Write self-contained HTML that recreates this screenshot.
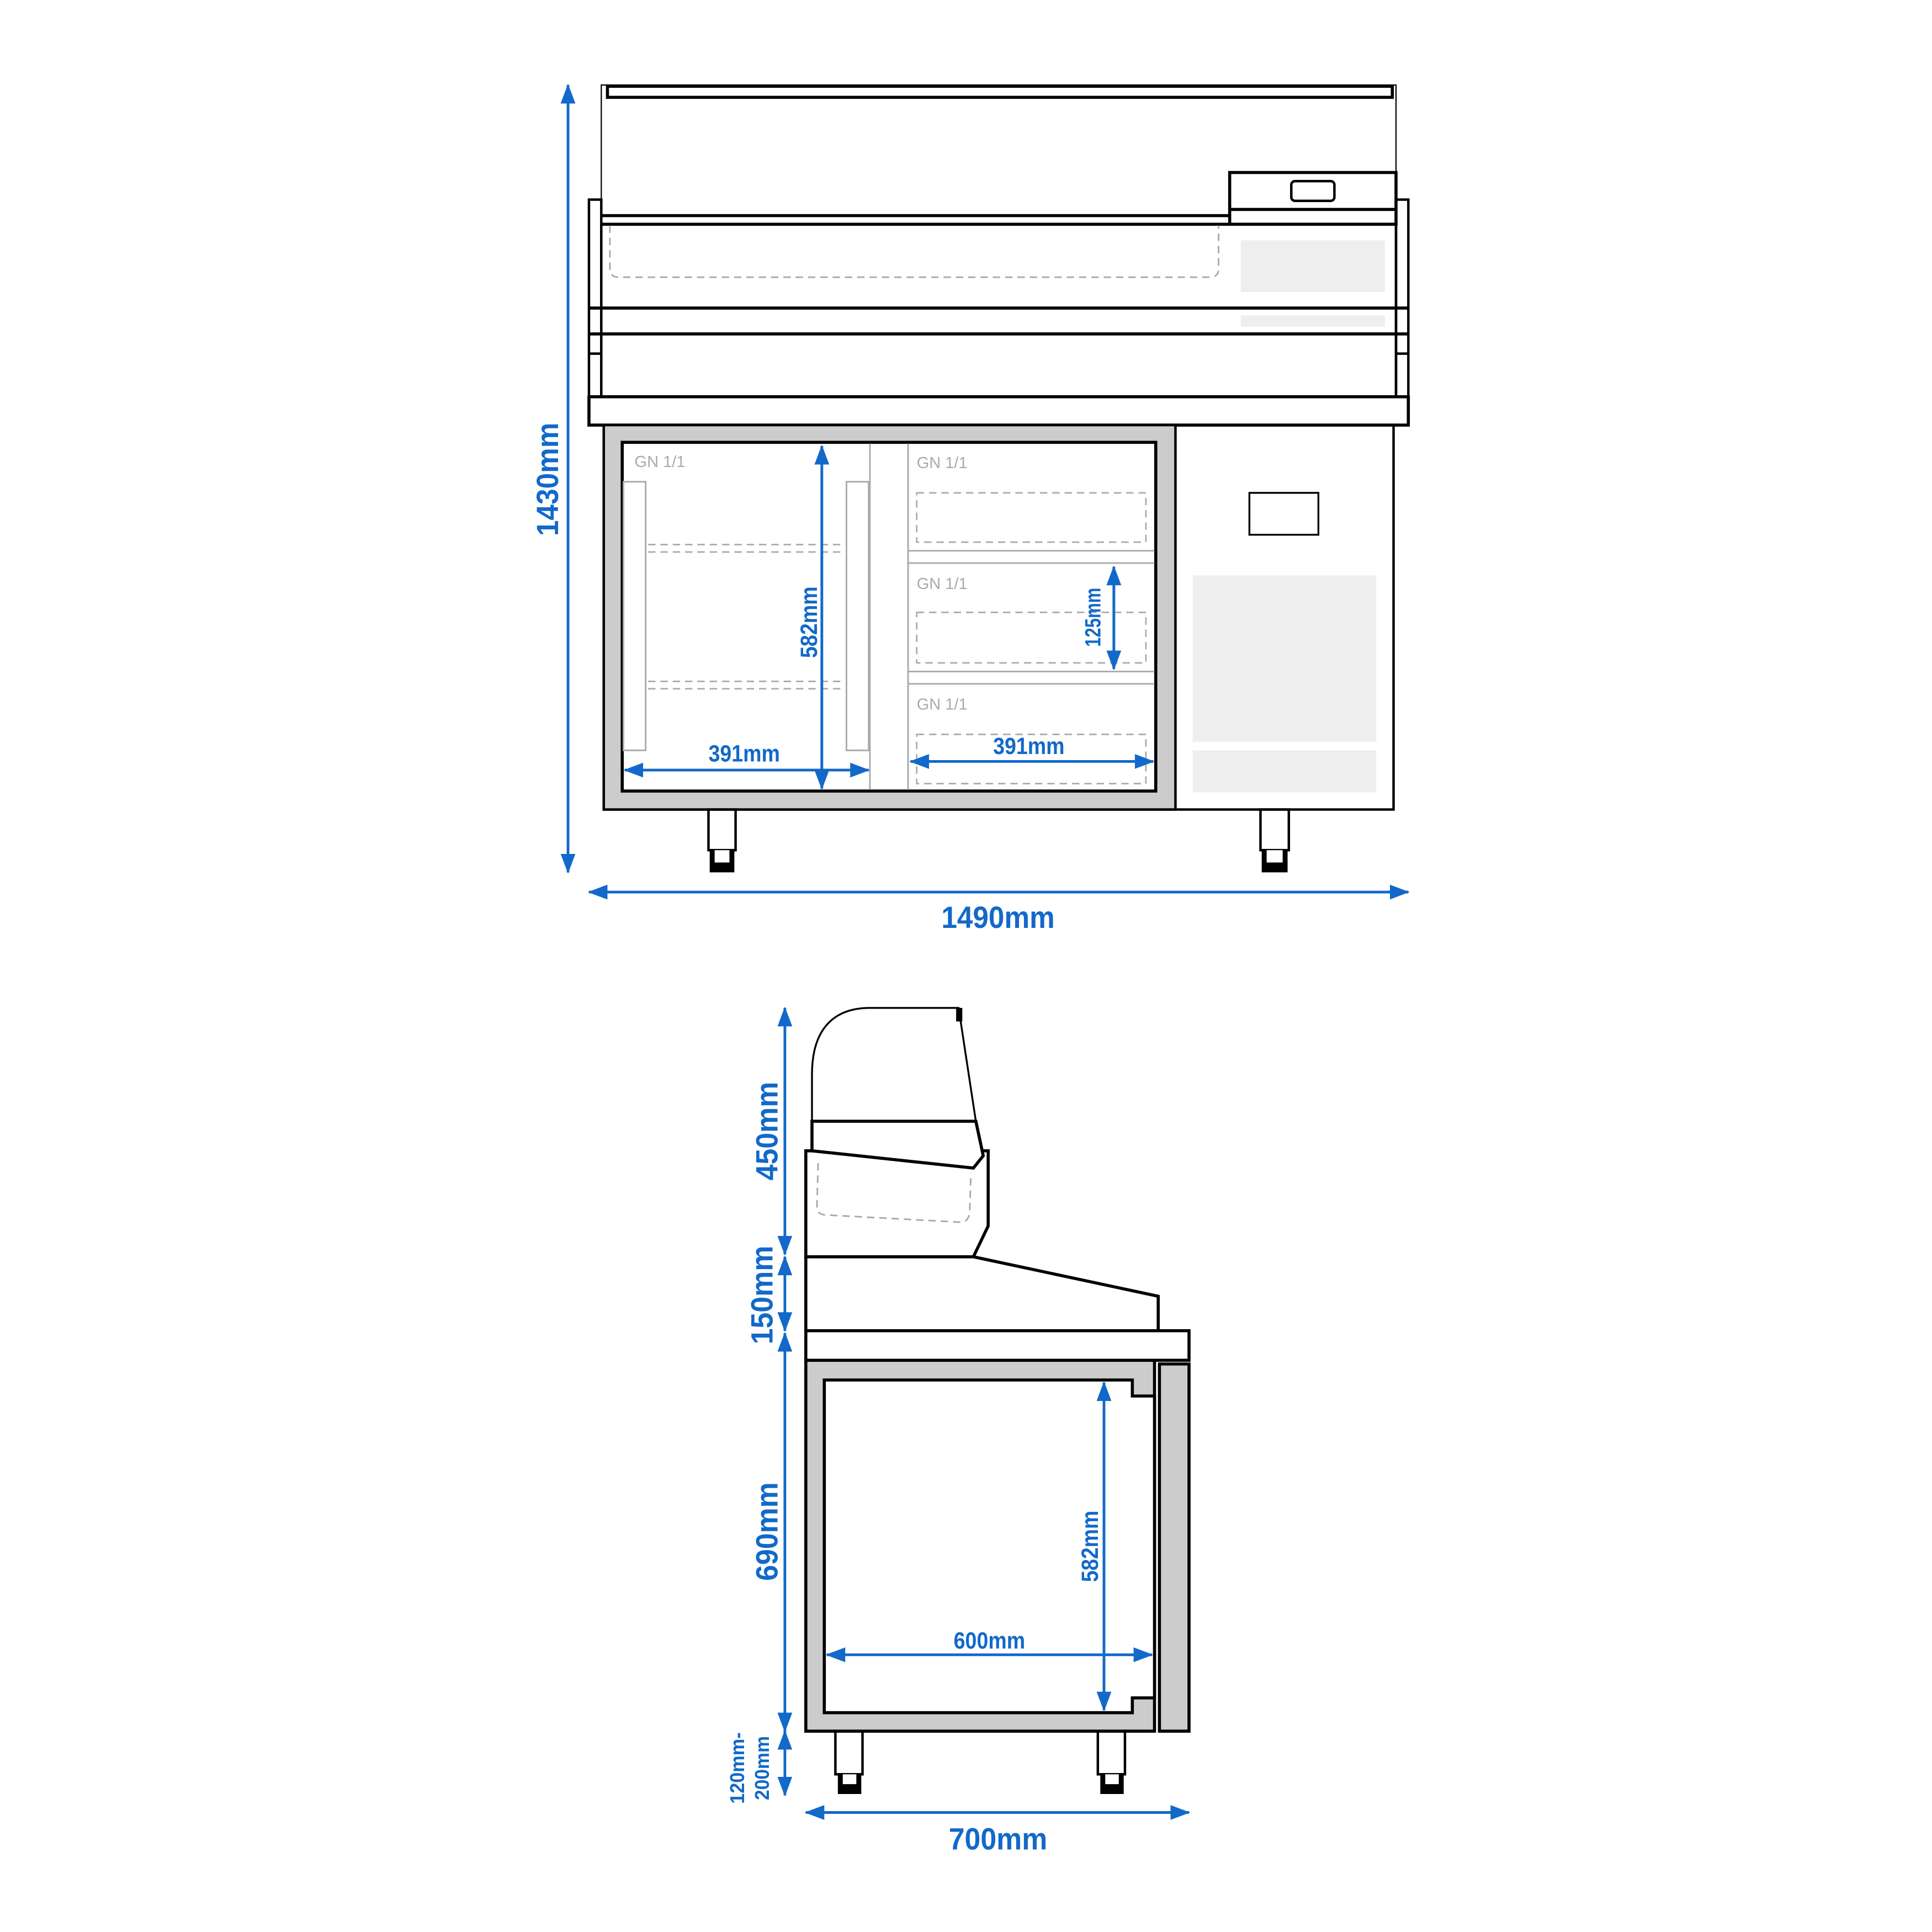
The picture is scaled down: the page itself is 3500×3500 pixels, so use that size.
<!DOCTYPE html>
<html><head><meta charset="utf-8"><style>
html,body{margin:0;padding:0;background:#fff}
svg{display:block}
text{font-family:"Liberation Sans Narrow","Liberation Sans",sans-serif;font-weight:bold}
.b{fill:#1269c9}
.g{fill:#aaa;font-weight:normal;font-family:"Liberation Sans",sans-serif;font-size:13px}
</style></head><body>
<svg width="3500" height="3500" viewBox="0 0 1568 1568" xmlns="http://www.w3.org/2000/svg">
<defs>
<marker id="a" viewBox="0 0 16 12" refX="15" refY="6" markerWidth="16" markerHeight="12" markerUnits="userSpaceOnUse" orient="auto-start-reverse">
<path d="M0,0 L16,6 L0,12 Z" fill="#1269c9"/></marker>
</defs>
<g fill="none" stroke="#000" stroke-width="2">
<rect x="488" y="69" width="645" height="113" stroke-width="1"/>
<rect x="493" y="70" width="637" height="9" stroke-width="2.5"/>
<rect x="998" y="140" width="135" height="42" fill="#fff" stroke-width="2.5"/>
<line x1="998" y1="170" x2="1133" y2="170" stroke-width="2.5"/>
<rect x="1048" y="147" width="35" height="16" rx="3"/>
<line x1="488" y1="175" x2="998" y2="175" stroke-width="2.5"/>
<line x1="488" y1="182" x2="1133" y2="182" stroke-width="2.5"/>
<rect x="478" y="162" width="10" height="160"/>
<rect x="1133" y="162" width="10" height="160"/>
<line x1="488" y1="182" x2="488" y2="322"/>
<line x1="1133" y1="182" x2="1133" y2="322"/>
<line x1="478" y1="250" x2="1143" y2="250" stroke-width="2.5"/>
<line x1="478" y1="271" x2="1143" y2="271" stroke-width="2.5"/>
<line x1="478" y1="287" x2="488" y2="287"/>
<line x1="1133" y1="287" x2="1143" y2="287"/>
<path d="M495,183 V218 Q495,225 502,225 H982 Q989,225 989,218 V183" stroke="#aaa" stroke-width="1.3" stroke-dasharray="6,4"/>
<rect x="1007" y="195" width="117" height="42" fill="#eee" stroke="none"/>
<rect x="1007" y="256" width="117" height="9" fill="#eee" stroke="none"/>
<rect x="478" y="322" width="665" height="23" stroke-width="2.5"/>
<rect x="490" y="345" width="641" height="312"/>
<rect x="490" y="345" width="464" height="312" fill="#ccc"/>
<rect x="505" y="359" width="433" height="283" fill="#fff" stroke-width="2.5"/>
<line x1="706" y1="360" x2="706" y2="641" stroke="#aaa" stroke-width="1.3"/>
<line x1="737" y1="360" x2="737" y2="641" stroke="#aaa" stroke-width="1.3"/>
<line x1="737" y1="447" x2="937" y2="447" stroke="#aaa" stroke-width="1.3"/>
<line x1="737" y1="457" x2="937" y2="457" stroke="#aaa" stroke-width="1.3"/>
<line x1="737" y1="545" x2="937" y2="545" stroke="#aaa" stroke-width="1.3"/>
<line x1="737" y1="555" x2="937" y2="555" stroke="#aaa" stroke-width="1.3"/>
<rect x="506" y="391" width="18" height="218" stroke="#aaa" stroke-width="1.3"/>
<rect x="687" y="391" width="18" height="218" stroke="#aaa" stroke-width="1.3"/>
<g stroke="#aaa" stroke-width="1.2" stroke-dasharray="6,4">
<line x1="526" y1="442" x2="686" y2="442"/><line x1="526" y1="448" x2="686" y2="448"/>
<line x1="526" y1="553" x2="686" y2="553"/><line x1="526" y1="559" x2="686" y2="559"/>
<rect x="744" y="400" width="186" height="40"/>
<rect x="744" y="497" width="186" height="41"/>
<rect x="744" y="596" width="186" height="40"/>
</g>
<rect x="1014" y="400" width="56" height="34" stroke-width="1.5"/>
<rect x="968" y="467" width="149" height="135" fill="#eee" stroke="none"/>
<rect x="968" y="609" width="149" height="34" fill="#eee" stroke="none"/>
<rect x="575" y="657" width="22" height="33"/>
<rect x="577" y="690" width="18" height="17" fill="#000"/>
<rect x="580" y="690" width="12" height="10" fill="#fff" stroke="none"/>
<rect x="1023" y="657" width="23" height="33"/>
<rect x="1025" y="690" width="19" height="17" fill="#000"/>
<rect x="1028" y="690" width="13" height="10" fill="#fff" stroke="none"/>

<path d="M659,910 L659,872 C659,836 676,818 706,818 L778,818 L792,910" stroke-width="1.5"/>
<rect x="776" y="818" width="5" height="11" fill="#000" stroke="none"/>
<path d="M659,910 L792,910 L798,938 L790,948 L659,934 Z" stroke-width="2.5"/>
<path d="M659,934 L654,934 L654,1020 L790,1020 L802,995 L802,934 L798,934" stroke-width="2.5"/>
<path d="M664,944 L663,980 Q663,985 669,986 L781,992 Q786,991 787,984 L788,952" stroke="#aaa" stroke-width="1.3" stroke-dasharray="6,4"/>
<path d="M790,1020 L940,1052 L940,1080" stroke-width="2.5"/>
<line x1="654" y1="1020" x2="654" y2="1080" stroke-width="2.5"/>
<rect x="654" y="1080" width="311" height="24" stroke-width="2.5"/>
<rect x="654" y="1104" width="283" height="301" fill="#ccc" stroke-width="2.5"/>
<path d="M669,1120 H919 V1133 H937 V1378 H919 V1390 H669 Z" fill="#fff" stroke-width="2.5"/>
<rect x="941" y="1107" width="24" height="298" fill="#ccc" stroke-width="2.5"/>
<rect x="678" y="1405" width="22" height="35"/>
<rect x="681" y="1440" width="17" height="15" fill="#000"/>
<rect x="684" y="1440" width="11" height="8" fill="#fff" stroke="none"/>
<rect x="891" y="1405" width="22" height="35"/>
<rect x="894" y="1440" width="17" height="15" fill="#000"/>
<rect x="897" y="1440" width="11" height="8" fill="#fff" stroke="none"/>
</g>

<g stroke="#1269c9" stroke-width="2.2" fill="none" marker-start="url(#a)" marker-end="url(#a)">
<line x1="461" y1="69" x2="461" y2="708"/>
<line x1="478" y1="724" x2="1143" y2="724"/>
<line x1="667" y1="362" x2="667" y2="640"/>
<line x1="507" y1="625" x2="705" y2="625"/>
<line x1="739" y1="618" x2="936" y2="618"/>
<line x1="904" y1="460" x2="904" y2="543"/>
<line x1="637" y1="818" x2="637" y2="1018"/>
<line x1="637" y1="1020" x2="637" y2="1080"/>
<line x1="637" y1="1082" x2="637" y2="1405"/>
<line x1="637" y1="1405" x2="637" y2="1457"/>
<line x1="654" y1="1471" x2="965" y2="1471"/>
<line x1="896" y1="1122" x2="896" y2="1388"/>
<line x1="671" y1="1343" x2="935" y2="1343"/>
</g>

<g lengthAdjust="spacingAndGlyphs">
<text class="b" font-size="25" transform="translate(453,389) rotate(-90)" text-anchor="middle" textLength="92" lengthAdjust="spacingAndGlyphs">1430mm</text>
<text class="b" font-size="25" x="810" y="753" text-anchor="middle" textLength="92" lengthAdjust="spacingAndGlyphs">1490mm</text>
<text class="b" font-size="19" transform="translate(663,505) rotate(-90)" text-anchor="middle" textLength="58" lengthAdjust="spacingAndGlyphs">582mm</text>
<text class="b" font-size="19" x="604" y="618" text-anchor="middle" textLength="58" lengthAdjust="spacingAndGlyphs">391mm</text>
<text class="b" font-size="19" x="835" y="612" text-anchor="middle" textLength="58" lengthAdjust="spacingAndGlyphs">391mm</text>
<text class="b" font-size="18" transform="translate(893,501) rotate(-90)" text-anchor="middle" textLength="48" lengthAdjust="spacingAndGlyphs">125mm</text>
<text class="b" font-size="25" transform="translate(631,918) rotate(-90)" text-anchor="middle" textLength="80" lengthAdjust="spacingAndGlyphs">450mm</text>
<text class="b" font-size="25" transform="translate(627,1051) rotate(-90)" text-anchor="middle" textLength="80" lengthAdjust="spacingAndGlyphs">150mm</text>
<text class="b" font-size="25" transform="translate(631,1243) rotate(-90)" text-anchor="middle" textLength="80" lengthAdjust="spacingAndGlyphs">690mm</text>
<text class="b" font-size="16" transform="translate(604,1435) rotate(-90)" text-anchor="middle" textLength="58" lengthAdjust="spacingAndGlyphs">120mm-</text>
<text class="b" font-size="16" transform="translate(624,1435) rotate(-90)" text-anchor="middle" textLength="52" lengthAdjust="spacingAndGlyphs">200mm</text>
<text class="b" font-size="25" x="810" y="1501" text-anchor="middle" textLength="80" lengthAdjust="spacingAndGlyphs">700mm</text>
<text class="b" font-size="19" transform="translate(891,1255) rotate(-90)" text-anchor="middle" textLength="58" lengthAdjust="spacingAndGlyphs">582mm</text>
<text class="b" font-size="19" x="803" y="1338" text-anchor="middle" textLength="58" lengthAdjust="spacingAndGlyphs">600mm</text>
</g>
<text class="g" x="515" y="379">GN 1/1</text>
<text class="g" x="744" y="380">GN 1/1</text>
<text class="g" x="744" y="478">GN 1/1</text>
<text class="g" x="744" y="576">GN 1/1</text>
</svg>
</body></html>
